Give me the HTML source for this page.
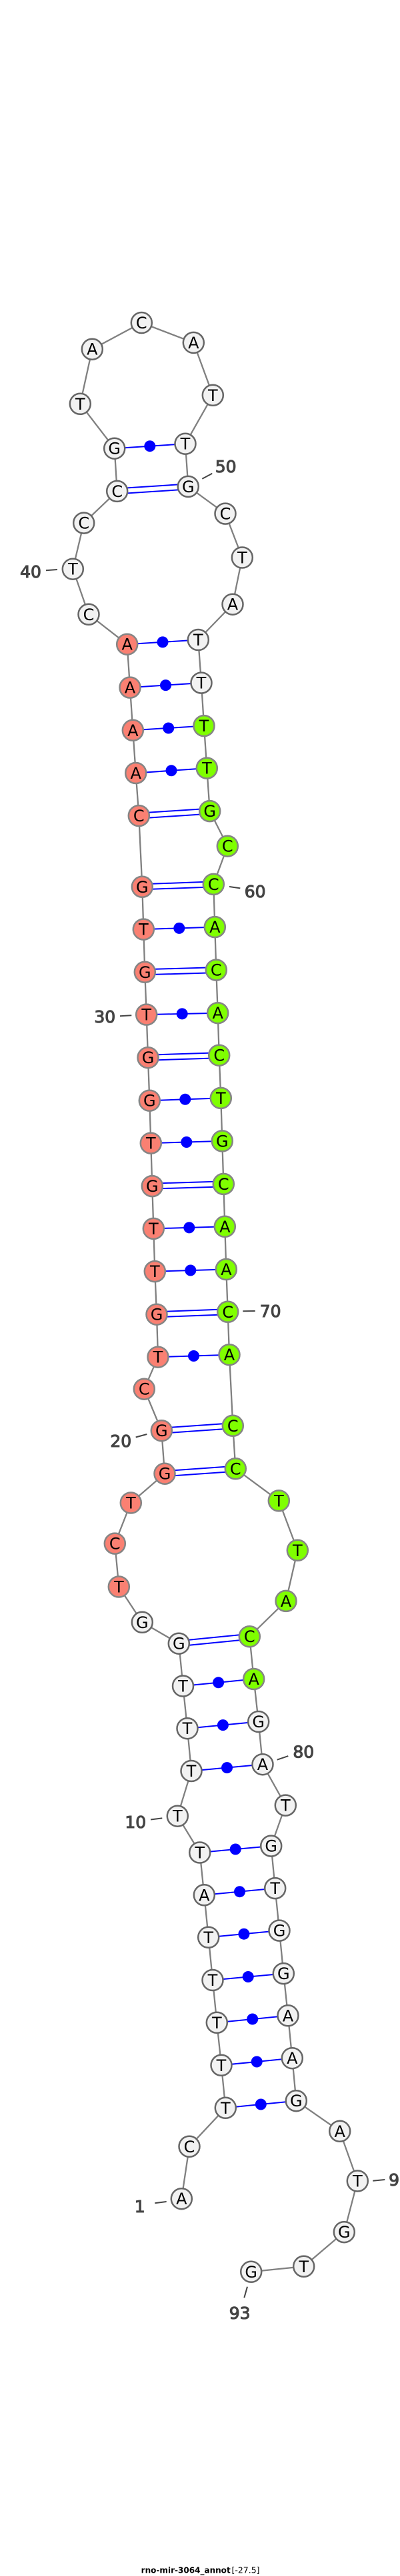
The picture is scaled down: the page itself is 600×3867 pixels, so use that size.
<!DOCTYPE html>
<html><head><meta charset="utf-8">
<style>
html,body{margin:0;padding:0;background:#fff}
svg{display:block}
.w{fill:#f2f2f2;stroke:#666}
.s{fill:#fa8072;stroke:#858585}
.g{fill:#7fff00;stroke:#858585}
circle.w,circle.s,circle.g{stroke-width:2.5}
.l text{font:24px "DejaVu Sans",sans-serif;text-anchor:middle;fill:#000}
.n text{font:25px "DejaVu Sans",sans-serif;fill:#444;stroke:#444;stroke-width:1.1;text-anchor:middle}
.b line{stroke:#00f;stroke-width:2}
.t line{stroke:#444;stroke-width:2}
</style></head><body>
<svg width="600" height="3867" viewBox="0 0 600 3867" xmlns="http://www.w3.org/2000/svg">
<polyline fill="none" stroke="#808080" stroke-width="2.3" points="272.3,3300.7 284,3222.3 338.3,3164.3 332,3100.3 325.3,3036.3 319,2972.5 312.7,2908.3 306.3,2844.8 299.7,2781 266.3,2726.2 287,2658.5 281,2594.7 274.5,2531 268.3,2467.2 213.3,2435.3 178.3,2382 172.3,2317.1 196.3,2256 247,2212.2 242.3,2147.7 216.3,2085.2 237,2037.2 235,1973.2 232.3,1908.6 230.3,1844.4 228.3,1780.6 226.3,1716.1 224.3,1652.2 222,1587.7 219.7,1523.1 217.3,1459.3 215.3,1395.1 213.3,1331.3 208.3,1224.6 203.7,1160.5 199.3,1096.3 195,1032.1 190.7,967.2 133,922.3 109.3,854.2 125.7,785.1 175.7,737.4 171.7,673.2 120.3,606.3 138.3,524.2 212.3,484.5 290.3,514.4 319.3,593.3 278,666.2 282.3,730.4 338,771.1 363.3,837 349,907.2 297.3,960.5 302,1025.1 306,1089.6 310.3,1153.1 314.7,1217.6 341.3,1270.2 320.3,1327.4 322.3,1391.6 324.3,1456.1 326.7,1520.7 328.7,1584.2 331.3,1648.4 333.3,1712.9 335.3,1777.4 337.3,1841.3 339.3,1905.5 341.7,1969.3 344,2033.7 349.3,2140.3 353.3,2204.8 418.3,2252.9 446.3,2327.3 429,2403.4 374.3,2456.7 380.7,2520.5 387.7,2584.5 394,2648.7 428.3,2710.1 406.7,2771.1 412.7,2834.6 419,2898.1 425.3,2962.6 432,3025.8 438.3,3089.7 444.3,3153.7 509.7,3199.3 536.3,3274 516.3,3350.7 455.7,3402.3 376.7,3410.3"/>
<g class="b">
<line x1="338.3" y1="3164.3" x2="444.3" y2="3153.7"/>
<line x1="332" y1="3100.3" x2="438.3" y2="3089.7"/>
<line x1="325.3" y1="3036.3" x2="432" y2="3025.8"/>
<line x1="319" y1="2972.5" x2="425.3" y2="2962.6"/>
<line x1="312.7" y1="2908.3" x2="419" y2="2898.1"/>
<line x1="306.3" y1="2844.8" x2="412.7" y2="2834.6"/>
<line x1="299.7" y1="2781" x2="406.7" y2="2771.1"/>
<line x1="287" y1="2658.5" x2="394" y2="2648.7"/>
<line x1="281" y1="2594.7" x2="387.7" y2="2584.5"/>
<line x1="274.5" y1="2531" x2="380.7" y2="2520.5"/>
<line x1="237" y1="2037.2" x2="344" y2="2033.7"/>
<line x1="232.3" y1="1908.6" x2="339.3" y2="1905.5"/>
<line x1="230.3" y1="1844.4" x2="337.3" y2="1841.3"/>
<line x1="226.3" y1="1716.1" x2="333.3" y2="1712.9"/>
<line x1="224.3" y1="1652.2" x2="331.3" y2="1648.4"/>
<line x1="219.7" y1="1523.1" x2="326.7" y2="1520.7"/>
<line x1="215.3" y1="1395.1" x2="322.3" y2="1391.6"/>
<line x1="203.7" y1="1160.5" x2="310.3" y2="1153.1"/>
<line x1="199.3" y1="1096.3" x2="306" y2="1089.6"/>
<line x1="195" y1="1032.1" x2="302" y2="1025.1"/>
<line x1="190.7" y1="967.2" x2="297.3" y2="960.5"/>
<line x1="171.7" y1="673.2" x2="278" y2="666.2"/>
<line x1="268.3" y1="2463.2" x2="374.3" y2="2452.7"/><line x1="268.3" y1="2471.2" x2="374.3" y2="2460.7"/>
<line x1="247" y1="2208.2" x2="353.3" y2="2200.8"/><line x1="247" y1="2216.2" x2="353.3" y2="2208.8"/>
<line x1="242.3" y1="2143.7" x2="349.3" y2="2136.3"/><line x1="242.3" y1="2151.7" x2="349.3" y2="2144.3"/>
<line x1="235" y1="1969.2" x2="341.7" y2="1965.3"/><line x1="235" y1="1977.2" x2="341.7" y2="1973.3"/>
<line x1="228.3" y1="1776.6" x2="335.3" y2="1773.4"/><line x1="228.3" y1="1784.6" x2="335.3" y2="1781.4"/>
<line x1="222" y1="1583.7" x2="328.7" y2="1580.2"/><line x1="222" y1="1591.7" x2="328.7" y2="1588.2"/>
<line x1="217.3" y1="1455.3" x2="324.3" y2="1452.1"/><line x1="217.3" y1="1463.3" x2="324.3" y2="1460.1"/>
<line x1="213.3" y1="1327.3" x2="320.3" y2="1323.4"/><line x1="213.3" y1="1335.3" x2="320.3" y2="1331.4"/>
<line x1="208.3" y1="1220.6" x2="314.7" y2="1213.6"/><line x1="208.3" y1="1228.6" x2="314.7" y2="1221.6"/>
<line x1="175.7" y1="733.4" x2="282.3" y2="726.4"/><line x1="175.7" y1="741.4" x2="282.3" y2="734.4"/>
</g>
<g fill="#00f">
<circle cx="391.3" cy="3159" r="8.5"/><circle cx="385.2" cy="3095" r="8.5"/><circle cx="378.7" cy="3031" r="8.5"/><circle cx="372.2" cy="2967.5" r="8.5"/><circle cx="365.9" cy="2903.2" r="8.5"/><circle cx="359.5" cy="2839.7" r="8.5"/><circle cx="353.2" cy="2776" r="8.5"/><circle cx="340.5" cy="2653.6" r="8.5"/><circle cx="334.4" cy="2589.6" r="8.5"/><circle cx="327.6" cy="2525.8" r="8.5"/><circle cx="290.5" cy="2035.5" r="8.5"/><circle cx="285.8" cy="1907" r="8.5"/><circle cx="283.8" cy="1842.9" r="8.5"/><circle cx="279.8" cy="1714.5" r="8.5"/><circle cx="277.8" cy="1650.3" r="8.5"/><circle cx="273.2" cy="1521.9" r="8.5"/><circle cx="268.8" cy="1393.4" r="8.5"/><circle cx="257" cy="1156.8" r="8.5"/><circle cx="252.7" cy="1093" r="8.5"/><circle cx="248.5" cy="1028.6" r="8.5"/><circle cx="244" cy="963.9" r="8.5"/><circle cx="224.8" cy="669.7" r="8.5"/>
</g>
<g>
<circle class="w" cx="272.3" cy="3300.7" r="15.5"/><circle class="w" cx="284" cy="3222.3" r="15.5"/><circle class="w" cx="338.3" cy="3164.3" r="15.5"/><circle class="w" cx="332" cy="3100.3" r="15.5"/><circle class="w" cx="325.3" cy="3036.3" r="15.5"/><circle class="w" cx="319" cy="2972.5" r="15.5"/><circle class="w" cx="312.7" cy="2908.3" r="15.5"/><circle class="w" cx="306.3" cy="2844.8" r="15.5"/><circle class="w" cx="299.7" cy="2781" r="15.5"/><circle class="w" cx="266.3" cy="2726.2" r="15.5"/><circle class="w" cx="287" cy="2658.5" r="15.5"/><circle class="w" cx="281" cy="2594.7" r="15.5"/><circle class="w" cx="274.5" cy="2531" r="15.5"/><circle class="w" cx="268.3" cy="2467.2" r="15.5"/><circle class="w" cx="213.3" cy="2435.3" r="15.5"/>
<circle class="s" cx="178.3" cy="2382" r="15.5"/><circle class="s" cx="172.3" cy="2317.1" r="15.5"/><circle class="s" cx="196.3" cy="2256" r="15.5"/><circle class="s" cx="247" cy="2212.2" r="15.5"/><circle class="s" cx="242.3" cy="2147.7" r="15.5"/><circle class="s" cx="216.3" cy="2085.2" r="15.5"/><circle class="s" cx="237" cy="2037.2" r="15.5"/><circle class="s" cx="235" cy="1973.2" r="15.5"/><circle class="s" cx="232.3" cy="1908.6" r="15.5"/><circle class="s" cx="230.3" cy="1844.4" r="15.5"/><circle class="s" cx="228.3" cy="1780.6" r="15.5"/><circle class="s" cx="226.3" cy="1716.1" r="15.5"/><circle class="s" cx="224.3" cy="1652.2" r="15.5"/><circle class="s" cx="222" cy="1587.7" r="15.5"/><circle class="s" cx="219.7" cy="1523.1" r="15.5"/><circle class="s" cx="217.3" cy="1459.3" r="15.5"/><circle class="s" cx="215.3" cy="1395.1" r="15.5"/><circle class="s" cx="213.3" cy="1331.3" r="15.5"/><circle class="s" cx="208.3" cy="1224.6" r="15.5"/><circle class="s" cx="203.7" cy="1160.5" r="15.5"/><circle class="s" cx="199.3" cy="1096.3" r="15.5"/><circle class="s" cx="195" cy="1032.1" r="15.5"/><circle class="s" cx="190.7" cy="967.2" r="15.5"/>
<circle class="w" cx="133" cy="922.3" r="15.5"/><circle class="w" cx="109.3" cy="854.2" r="15.5"/><circle class="w" cx="125.7" cy="785.1" r="15.5"/><circle class="w" cx="175.7" cy="737.4" r="15.5"/><circle class="w" cx="171.7" cy="673.2" r="15.5"/><circle class="w" cx="120.3" cy="606.3" r="15.5"/><circle class="w" cx="138.3" cy="524.2" r="15.5"/><circle class="w" cx="212.3" cy="484.5" r="15.5"/><circle class="w" cx="290.3" cy="514.4" r="15.5"/><circle class="w" cx="319.3" cy="593.3" r="15.5"/><circle class="w" cx="278" cy="666.2" r="15.5"/><circle class="w" cx="282.3" cy="730.4" r="15.5"/><circle class="w" cx="338" cy="771.1" r="15.5"/><circle class="w" cx="363.3" cy="837" r="15.5"/><circle class="w" cx="349" cy="907.2" r="15.5"/><circle class="w" cx="297.3" cy="960.5" r="15.5"/><circle class="w" cx="302" cy="1025.1" r="15.5"/>
<circle class="g" cx="306" cy="1089.6" r="15.5"/><circle class="g" cx="310.3" cy="1153.1" r="15.5"/><circle class="g" cx="314.7" cy="1217.6" r="15.5"/><circle class="g" cx="341.3" cy="1270.2" r="15.5"/><circle class="g" cx="320.3" cy="1327.4" r="15.5"/><circle class="g" cx="322.3" cy="1391.6" r="15.5"/><circle class="g" cx="324.3" cy="1456.1" r="15.5"/><circle class="g" cx="326.7" cy="1520.7" r="15.5"/><circle class="g" cx="328.7" cy="1584.2" r="15.5"/><circle class="g" cx="331.3" cy="1648.4" r="15.5"/><circle class="g" cx="333.3" cy="1712.9" r="15.5"/><circle class="g" cx="335.3" cy="1777.4" r="15.5"/><circle class="g" cx="337.3" cy="1841.3" r="15.5"/><circle class="g" cx="339.3" cy="1905.5" r="15.5"/><circle class="g" cx="341.7" cy="1969.3" r="15.5"/><circle class="g" cx="344" cy="2033.7" r="15.5"/><circle class="g" cx="349.3" cy="2140.3" r="15.5"/><circle class="g" cx="353.3" cy="2204.8" r="15.5"/><circle class="g" cx="418.3" cy="2252.9" r="15.5"/><circle class="g" cx="446.3" cy="2327.3" r="15.5"/><circle class="g" cx="429" cy="2403.4" r="15.5"/><circle class="g" cx="374.3" cy="2456.7" r="15.5"/><circle class="g" cx="380.7" cy="2520.5" r="15.5"/>
<circle class="w" cx="387.7" cy="2584.5" r="15.5"/><circle class="w" cx="394" cy="2648.7" r="15.5"/><circle class="w" cx="428.3" cy="2710.1" r="15.5"/><circle class="w" cx="406.7" cy="2771.1" r="15.5"/><circle class="w" cx="412.7" cy="2834.6" r="15.5"/><circle class="w" cx="419" cy="2898.1" r="15.5"/><circle class="w" cx="425.3" cy="2962.6" r="15.5"/><circle class="w" cx="432" cy="3025.8" r="15.5"/><circle class="w" cx="438.3" cy="3089.7" r="15.5"/><circle class="w" cx="444.3" cy="3153.7" r="15.5"/><circle class="w" cx="509.7" cy="3199.3" r="15.5"/><circle class="w" cx="536.3" cy="3274" r="15.5"/><circle class="w" cx="516.3" cy="3350.7" r="15.5"/><circle class="w" cx="455.7" cy="3402.3" r="15.5"/><circle class="w" cx="376.7" cy="3410.3" r="15.5"/>
</g>
<g class="l">
<text x="272.3" y="3309.2">A</text><text x="284" y="3230.8">C</text><text x="338.3" y="3172.8">T</text><text x="332" y="3108.8">T</text><text x="325.3" y="3044.8">T</text><text x="319" y="2981">T</text><text x="312.7" y="2916.8">T</text><text x="306.3" y="2853.3">A</text><text x="299.7" y="2789.5">T</text><text x="266.3" y="2734.7">T</text><text x="287" y="2667">T</text><text x="281" y="2603.2">T</text><text x="274.5" y="2539.5">T</text><text x="268.3" y="2475.7">G</text><text x="213.3" y="2443.8">G</text><text x="178.3" y="2390.5">T</text><text x="172.3" y="2325.6">C</text><text x="196.3" y="2264.5">T</text><text x="247" y="2220.7">G</text><text x="242.3" y="2156.2">G</text><text x="216.3" y="2093.7">C</text><text x="237" y="2045.7">T</text><text x="235" y="1981.7">G</text><text x="232.3" y="1917.1">T</text><text x="230.3" y="1852.9">T</text><text x="228.3" y="1789.1">G</text><text x="226.3" y="1724.6">T</text><text x="224.3" y="1660.7">G</text><text x="222" y="1596.2">G</text><text x="219.7" y="1531.6">T</text><text x="217.3" y="1467.8">G</text><text x="215.3" y="1403.6">T</text><text x="213.3" y="1339.8">G</text><text x="208.3" y="1233.1">C</text><text x="203.7" y="1169">A</text><text x="199.3" y="1104.8">A</text><text x="195" y="1040.6">A</text><text x="190.7" y="975.7">A</text><text x="133" y="930.8">C</text><text x="109.3" y="862.7">T</text><text x="125.7" y="793.6">C</text><text x="175.7" y="745.9">C</text><text x="171.7" y="681.7">G</text><text x="120.3" y="614.8">T</text><text x="138.3" y="532.7">A</text><text x="212.3" y="493">C</text><text x="290.3" y="522.9">A</text><text x="319.3" y="601.8">T</text><text x="278" y="674.7">T</text><text x="282.3" y="738.9">G</text><text x="338" y="779.6">C</text><text x="363.3" y="845.5">T</text><text x="349" y="915.7">A</text><text x="297.3" y="969">T</text><text x="302" y="1033.6">T</text><text x="306" y="1098.1">T</text><text x="310.3" y="1161.6">T</text><text x="314.7" y="1226.1">G</text><text x="341.3" y="1278.7">C</text><text x="320.3" y="1335.9">C</text><text x="322.3" y="1400.1">A</text><text x="324.3" y="1464.6">C</text><text x="326.7" y="1529.2">A</text><text x="328.7" y="1592.7">C</text><text x="331.3" y="1656.9">T</text><text x="333.3" y="1721.4">G</text><text x="335.3" y="1785.9">C</text><text x="337.3" y="1849.8">A</text><text x="339.3" y="1914">A</text><text x="341.7" y="1977.8">C</text><text x="344" y="2042.2">A</text><text x="349.3" y="2148.8">C</text><text x="353.3" y="2213.3">C</text><text x="418.3" y="2261.4">T</text><text x="446.3" y="2335.8">T</text><text x="429" y="2411.9">A</text><text x="374.3" y="2465.2">C</text><text x="380.7" y="2529">A</text><text x="387.7" y="2593">G</text><text x="394" y="2657.2">A</text><text x="428.3" y="2718.6">T</text><text x="406.7" y="2779.6">G</text><text x="412.7" y="2843.1">T</text><text x="419" y="2906.6">G</text><text x="425.3" y="2971.1">G</text><text x="432" y="3034.3">A</text><text x="438.3" y="3098.2">A</text><text x="444.3" y="3162.2">G</text><text x="509.7" y="3207.8">A</text><text x="536.3" y="3282.5">T</text><text x="516.3" y="3359.2">G</text><text x="455.7" y="3410.8">T</text><text x="376.7" y="3418.8">G</text>
</g>
<g class="t">
<line x1="232.3" y1="3307.3" x2="249.7" y2="3305"/>
<line x1="226" y1="2731.5" x2="243.3" y2="2729.4"/>
<line x1="203.7" y1="2157.5" x2="220.3" y2="2153"/>
<line x1="180" y1="1525.2" x2="197.3" y2="1524.2"/>
<line x1="69" y1="856.3" x2="86" y2="855"/>
<line x1="303.3" y1="718.8" x2="318.3" y2="710.8"/>
<line x1="344" y1="1331" x2="360.3" y2="1333.4"/>
<line x1="364.3" y1="1968.3" x2="382.7" y2="1968"/>
<line x1="415.7" y1="2641.7" x2="432.3" y2="2636.1"/>
<line x1="559.3" y1="3273.7" x2="577.3" y2="3272"/>
<line x1="371" y1="3432.7" x2="366.3" y2="3449.3"/>
</g>
<g class="n">
<text x="209.7" y="3321">1</text>
<text x="203.3" y="2744">10</text>
<text x="181.3" y="2172">20</text>
<text x="157.3" y="1535">30</text>
<text x="46" y="867">40</text>
<text x="338.7" y="709">50</text>
<text x="382.7" y="1347">60</text>
<text x="405.7" y="1977">70</text>
<text x="455.3" y="2638.5">80</text>
<text x="599" y="3281">90</text>
<text x="359.7" y="3481">93</text>
</g>
<text x="211.7" y="3862.5" font-family="'DejaVu Sans',sans-serif" font-size="12" font-weight="bold" fill="#000" textLength="134" lengthAdjust="spacingAndGlyphs">rno-mir-3064_annot</text>
<text x="347.5" y="3862.5" font-family="'DejaVu Sans',sans-serif" font-size="12" fill="#000" textLength="42" lengthAdjust="spacingAndGlyphs">[-27.5]</text>
</svg>
</body></html>
